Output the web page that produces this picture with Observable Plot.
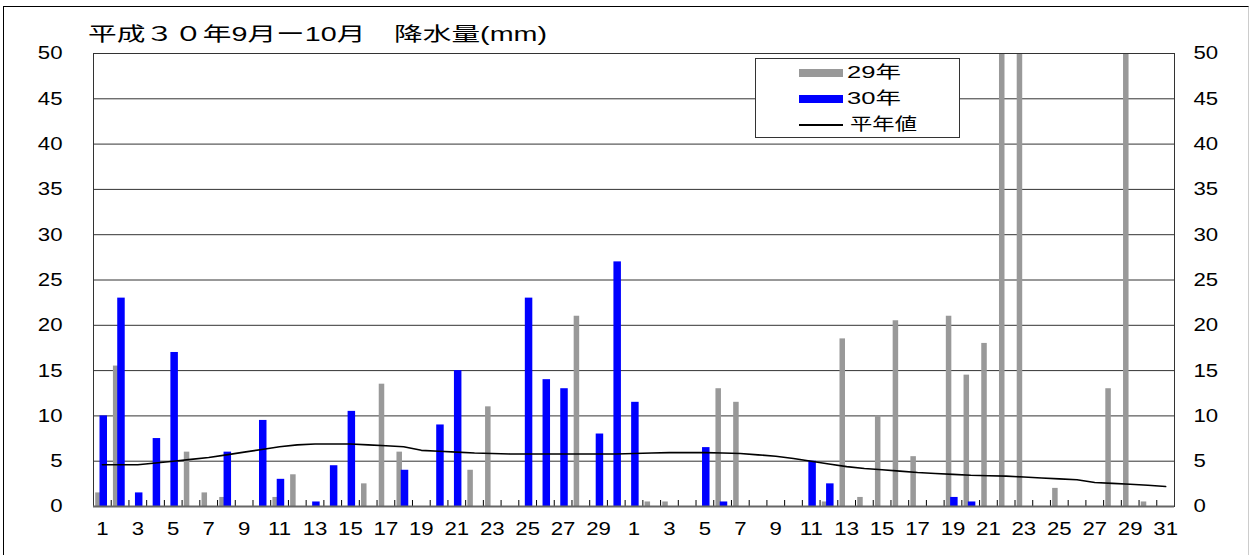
<!DOCTYPE html>
<html>
<head>
<meta charset="utf-8">
<script src="https://cdn.jsdelivr.net/npm/d3@7"></script>
<script src="https://cdn.jsdelivr.net/npm/@observablehq/plot@0.6"></script>
<style>
  body { margin: 0; background: #fff; }
  #wrap { position: relative; width: 1250px; height: 555px; overflow: hidden;
          font-family: "Liberation Sans", "Noto Sans CJK JP", sans-serif; color: #000; }
  #border { position: absolute; left: 3px; top: 6px; width: 1244px; height: 600px;
            border-left: 1.5px solid #000; border-top: 1.5px solid #000; border-right: 1px solid #ccc; }
  #chart { position: absolute; left: 0; top: 0; }
  #title { position: absolute; left: 88px; top: 24px; font-size: 19.5px; line-height: 20px;
           white-space: nowrap; transform-origin: left center; }
  #legend { position: absolute; left: 755px; top: 58px; width: 205px; height: 80px;
            border: 1px solid #333; background: #fff; box-sizing: border-box; }
  .row { position: absolute; left: 43px; height: 20px; display: flex; align-items: center; }
  .sw { width: 44px; }
  .lab { font-size: 17px; line-height: 20px; white-space: nowrap; margin-left: 4px;
         display: inline-block; transform-origin: left center; }
</style>
</head>
<body>
<div id="wrap">
  <div id="border"></div>
  <div id="chart"></div>
  <div id="title">平成３０年9月ー10月　降水量(mm)</div>
  <div id="legend"></div>
</div>
<script>
// ---- data ----
// day-of-month labels: September 1-30, then October 1-31
const dayLabels = [
  1,2,3,4,5,6,7,8,9,10,11,12,13,14,15,16,17,18,19,20,21,22,23,24,25,26,27,28,29,30,
  1,2,3,4,5,6,7,8,9,10,11,12,13,14,15,16,17,18,19,20,21,22,23,24,25,26,27,28,29,30,31
];
// 29年 (2017) daily precipitation, mm (Oct 22, 23, 29 exceed the 50 mm axis)
const rain29 = [
  1.5,15.5,0,0,0,6.0,1.5,1.0,0,0,1.0,3.5,0,0,0,2.5,13.5,6.0,0,0,0,4.0,11.0,0,0,0,0,21.0,0,0,
  0,0.5,0.5,0,0,13.0,11.5,0,0,0,0,0.5,18.5,1.0,10.0,20.5,5.5,0,21.0,14.5,18.0,75,95,0,2.0,0,0,13.0,60,0.5,0
];
// 30年 (2018) daily precipitation, mm
const rain30 = [
  10.0,23.0,1.5,7.5,17.0,0,0,6.0,0,9.5,3.0,0,0.5,4.5,10.5,0,0,4.0,0,9.0,15.0,0,0,0,23.0,14.0,13.0,0,8.0,27.0,
  11.5,0,0,0,6.5,0.5,0,0,0,0,5.0,2.5,0,0,0,0,0,0,1.0,0.5,0,0,0,0,0,0,0,0,0,0,0
];
// 平年値 (normal) daily precipitation, mm
const normal = [
  4.6,4.6,4.6,4.8,5.0,5.2,5.4,5.7,6.0,6.3,6.6,6.8,6.9,6.9,6.9,6.8,6.7,6.6,6.2,6.1,6.0,5.9,5.85,5.8,5.8,5.8,5.8,5.8,5.8,5.8,
  5.85,5.9,5.95,5.95,5.95,5.9,5.85,5.7,5.55,5.3,5.0,4.7,4.4,4.2,4.05,3.9,3.75,3.65,3.55,3.45,3.4,3.35,3.25,3.15,3.05,2.95,2.65,2.55,2.45,2.35,2.2
];
const yTicks = [0,5,10,15,20,25,30,35,40,45,50];
const seriesNames = ["29年", "30年", "平年値"];
const colors = ["#999999", "#0000ff", "#000000"];

// ---- build ----
const n = dayLabels.length;
const idx = d3.range(1, n + 1);
const g29 = idx.map(i => ({i, v: rain29[i - 1]})).filter(d => d.v > 0);
const g30 = idx.map(i => ({i, v: rain30[i - 1]})).filter(d => d.v > 0);
const gNorm = idx.map(i => ({i, v: normal[i - 1]}));
const bounds = d3.range(0, n + 1).map(k => k + 0.5);
const xTicks = idx.filter(i => i % 2 === 1);

const chart = Plot.plot({
  width: 1250, height: 555,
  marginLeft: 93, marginRight: 76, marginTop: 53, marginBottom: 49,
  x: {domain: [0.5, n + 0.5]},
  y: {domain: [0, 50]},
  style: {fontFamily: '"Liberation Sans", Arial, sans-serif', fontSize: "18.5px", color: "#000", background: "transparent", overflow: "visible"},
  marks: [
    Plot.ruleY(yTicks.slice(1, -1), {stroke: "#333", strokeWidth: 1}),
    Plot.rectY(g29, {x1: d => d.i - 0.376, x2: d => d.i - 0.065, y1: 0, y2: "v", fill: colors[0], clip: true}),
    Plot.rectY(g30, {x1: d => d.i - 0.133, x2: d => d.i + 0.29, y1: 0, y2: "v", fill: colors[1], clip: true}),
    Plot.ruleX(bounds, {stroke: "#000", strokeWidth: 1, insetTop: 447}),
    Plot.line(gNorm, {x: "i", y: "v", stroke: colors[2], strokeWidth: 1.6}),
    Plot.frame({stroke: "#333"}),
    Plot.ruleY([0], {stroke: "#666", strokeWidth: 2}),
    Plot.axisY({anchor: "left", ticks: yTicks, tickSize: 0, tickPadding: 31, label: null}),
    Plot.axisY({anchor: "right", ticks: yTicks, tickSize: 0, tickPadding: 19, label: null}),
    Plot.axisX({anchor: "bottom", ticks: xTicks, tickSize: 0, tickPadding: 15, tickFormat: i => String(dayLabels[i - 1]), label: null})
  ]
});
document.getElementById("chart").appendChild(chart);

// stretch tick labels horizontally like the reference's wide glyphs
chart.querySelectorAll("text").forEach(t => {
  const tr = t.getAttribute("transform");
  if (tr) {
    t.setAttribute("transform", tr + " scale(1.2,1)");
  } else {
    const x = +(t.getAttribute("x") || 0), y = +(t.getAttribute("y") || 0);
    t.removeAttribute("x"); t.removeAttribute("y");
    t.setAttribute("transform", `translate(${x},${y}) scale(1.2,1)`);
  }
});

// legend
const legend = document.getElementById("legend");
const rowCenters = [14, 40, 66];
const labelWidths = [54, 54, 67];
const labs = [];
seriesNames.forEach((name, k) => {
  const row = document.createElement("div");
  row.className = "row";
  row.style.top = (rowCenters[k] - 10) + "px";
  const sw = document.createElement("div");
  sw.className = "sw";
  if (k < 2) { sw.style.height = "8px"; sw.style.background = colors[k]; }
  else { sw.style.height = "2px"; sw.style.background = colors[k]; }
  const lab = document.createElement("span");
  lab.className = "lab";
  lab.textContent = name;
  if (k === 2) lab.style.marginLeft = "7px";
  row.appendChild(sw); row.appendChild(lab);
  legend.appendChild(row);
  labs.push([lab, labelWidths[k]]);
});

function fit() {
  const title = document.getElementById("title");
  title.style.transform = "none";
  const w = title.getBoundingClientRect().width;
  title.style.transform = `scaleX(${459 / w})`;
  labs.forEach(([lab, tw]) => {
    lab.style.transform = "none";
    const lw = lab.getBoundingClientRect().width;
    lab.style.transform = `scaleX(${tw / lw})`;
  });
}
fit();
if (document.fonts && document.fonts.ready) document.fonts.ready.then(fit);
</script>
</body>
</html>
